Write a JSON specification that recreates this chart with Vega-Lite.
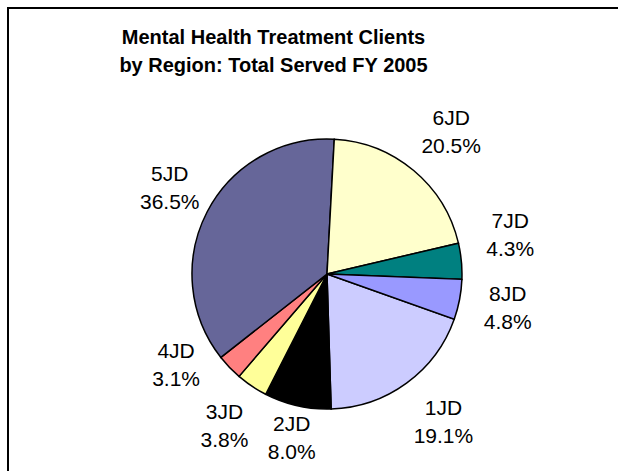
{
  "$schema": "https://vega.github.io/schema/vega-lite/v6.json",
  "width": 611,
  "height": 464,
  "autosize": {"type": "none"},
  "padding": {"left": 8, "top": 8, "right": 0, "bottom": 0},
  "background": "white",
  "view": {"stroke": "#000000", "strokeWidth": 2, "fill": "white"},
  "title": {
    "text": ["Mental Health Treatment Clients", "by Region: Total Served FY 2005"],
    "font": "Liberation Sans",
    "fontSize": 20,
    "fontWeight": "bold",
    "color": "#000000",
    "lineHeight": 28,
    "anchor": "middle",
    "dx": -40,
    "offset": -68
  },
  "data": {
    "values": [
      {"region": "1JD", "share": 0.191},
      {"region": "2JD", "share": 0.080},
      {"region": "3JD", "share": 0.038},
      {"region": "4JD", "share": 0.031},
      {"region": "5JD", "share": 0.365},
      {"region": "6JD", "share": 0.205},
      {"region": "7JD", "share": 0.043},
      {"region": "8JD", "share": 0.048}
    ]
  },
  "encoding": {
    "theta": {"field": "share", "type": "quantitative", "stack": true, "scale": {"range": [1.912, 8.195]}},
    "order": {"field": "region", "sort": "ascending"}
  },
  "layer": [
    {
      "mark": {"type": "arc", "outerRadius": 135, "stroke": "#000000", "strokeWidth": 1.5, "x": 319, "y": 266},
      "encoding": {
        "color": {
          "field": "region",
          "type": "nominal",
          "legend": null,
          "scale": {
            "domain": ["1JD", "2JD", "3JD", "4JD", "5JD", "6JD", "7JD", "8JD"],
            "range": ["#CCCCFF", "#000000", "#FFFF99", "#FF8080", "#666699", "#FFFFCC", "#008080", "#9999FF"]
          }
        }
      }
    },
    {
      "mark": {
        "type": "text", "radius": 184, "fontSize": 21, "font": "Liberation Sans", "color": "#000000", "x": 319, "y": 266,
        "dx": {"expr": "datum.region === '4JD' ? -18 : datum.region === '2JD' ? 5 : datum.region === '6JD' ? 6 : datum.region === '1JD' ? 8 : datum.region === '5JD' ? 6 : 0"},
        "dy": {"expr": "-14 + (datum.region === '7JD' ? -21 : datum.region === '4JD' ? -35 : datum.region === '2JD' ? -15 : 0)"}
      },
      "encoding": {"text": {"field": "region", "type": "nominal"}}
    },
    {
      "mark": {
        "type": "text", "radius": 184, "fontSize": 21, "font": "Liberation Sans", "color": "#000000", "x": 319, "y": 266,
        "dx": {"expr": "datum.region === '4JD' ? -18 : datum.region === '2JD' ? 5 : datum.region === '6JD' ? 6 : datum.region === '1JD' ? 8 : datum.region === '5JD' ? 6 : 0"},
        "dy": {"expr": "14 + (datum.region === '7JD' ? -21 : datum.region === '4JD' ? -35 : datum.region === '2JD' ? -15 : 0)"}
      },
      "encoding": {"text": {"field": "share", "type": "quantitative", "format": ".1%"}}
    }
  ]
}
